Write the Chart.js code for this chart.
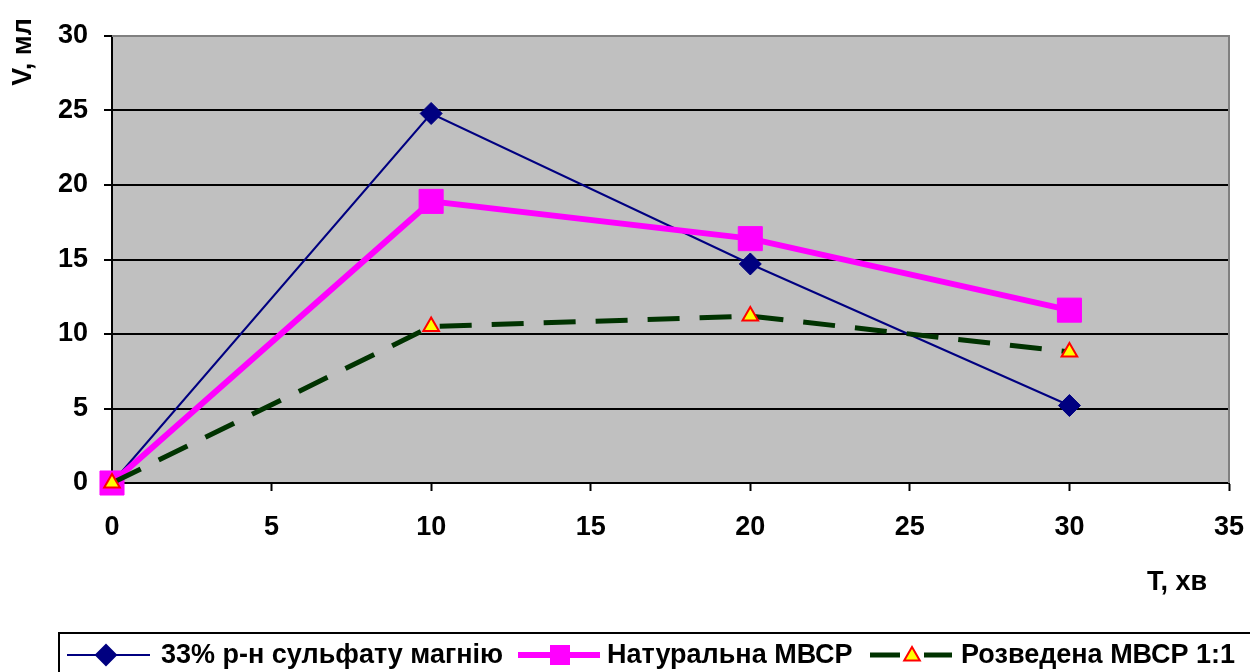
<!DOCTYPE html>
<html>
<head>
<meta charset="utf-8">
<script src="https://cdn.jsdelivr.net/npm/chart.js@4.4.1/dist/chart.umd.min.js"></script>
<style>
  body { margin: 0; background: #fff; }
  #wrap { width: 1250px; height: 672px; position: relative; }
</style>
</head>
<body>
<div id="wrap"><canvas id="chart"></canvas></div>
<script>
// data
const times = [0, 10, 20, 30];
const magnesium = [0, 24.8, 14.7, 5.2];
const natural = [0, 18.9, 16.4, 11.6];
const diluted = [0, 10.5, 11.2, 8.8];

const xTicks = [0, 5, 10, 15, 20, 25, 30, 35];
const yTicks = [0, 5, 10, 15, 20, 25, 30];

const seriesNames = ['33% р-н сульфату магнію', 'Натуральна МВСР', 'Розведена МВСР 1:1'];
const xTitle = 'T, хв';
const yTitle = 'V, мл';

const FONT = '"Liberation Sans", Arial, sans-serif';

function pts(ys) {
    return times.map((t, i) => ({ x: t, y: ys[i] }));
}

// grey plot background + grey top/right border
const plotBg = {
    id: 'plotBg',
    beforeDraw(chart) {
        const { ctx, chartArea: a } = chart;
        ctx.save();
        ctx.fillStyle = '#C0C0C0';
        ctx.fillRect(a.left, a.top, a.right - a.left, a.bottom - a.top);
        ctx.restore();
    },
    beforeDatasetsDraw(chart) {
        const { ctx, chartArea: a } = chart;
        ctx.save();
        ctx.strokeStyle = '#808080';
        ctx.lineWidth = 2;
        ctx.beginPath();
        ctx.moveTo(a.left, a.top);
        ctx.lineTo(a.right, a.top);
        ctx.lineTo(a.right, a.bottom);
        ctx.stroke();
        ctx.restore();
    }
};

// axis titles and the boxed legend
const extras = {
    id: 'extras',
    afterDraw(chart) {
        const ctx = chart.ctx;
        ctx.save();
        ctx.fillStyle = '#000';
        ctx.font = 'bold 27px ' + FONT;

        ctx.save();
        ctx.translate(24, 52);
        ctx.rotate(-Math.PI / 2);
        ctx.textAlign = 'center';
        ctx.textBaseline = 'middle';
        ctx.fillText(yTitle, 0, 0);
        ctx.restore();

        ctx.textAlign = 'center';
        ctx.textBaseline = 'middle';
        ctx.fillText(xTitle, 1177, 583);

        // legend box
        ctx.strokeStyle = '#000';
        ctx.lineWidth = 2;
        ctx.strokeRect(59, 633, 1250, 80);

        const ly = 655;
        const ds = chart.data.datasets;

        // item 1
        ctx.strokeStyle = ds[0].borderColor;
        ctx.lineWidth = 2;
        ctx.beginPath(); ctx.moveTo(67, ly); ctx.lineTo(150, ly); ctx.stroke();
        ctx.fillStyle = ds[0].pointBackgroundColor;
        Chart.helpers.drawPoint(ctx, { pointStyle: 'rectRot', radius: 10, borderWidth: 1 }, 106, ly);

        // item 2
        ctx.strokeStyle = ds[1].borderColor;
        ctx.lineWidth = 6;
        ctx.beginPath(); ctx.moveTo(518, ly); ctx.lineTo(600, ly); ctx.stroke();
        ctx.fillStyle = ds[1].pointBackgroundColor;
        ctx.fillRect(550, ly - 10, 20, 20);

        // item 3
        ctx.strokeStyle = ds[2].borderColor;
        ctx.lineWidth = 5;
        ctx.beginPath();
        ctx.moveTo(870, ly); ctx.lineTo(900, ly);
        ctx.moveTo(924, ly); ctx.lineTo(952, ly);
        ctx.stroke();
        ctx.fillStyle = ds[2].pointBackgroundColor;
        ctx.strokeStyle = ds[2].pointBorderColor;
        ctx.lineWidth = 2;
        Chart.helpers.drawPoint(ctx, { pointStyle: 'triangle', radius: 9, borderWidth: 2 }, 912, ly + 1);

        ctx.fillStyle = '#000';
        ctx.textAlign = 'left';
        ctx.textBaseline = 'middle';
        ctx.font = 'bold 27px ' + FONT;
        ctx.fillText(seriesNames[0], 161, ly + 1);
        ctx.fillText(seriesNames[1], 607, ly + 1);
        ctx.fillText(seriesNames[2], 961, ly + 1);
        ctx.restore();
    }
};

new Chart(document.getElementById('chart'), {
    type: 'line',
    data: {
        datasets: [
            {
                label: seriesNames[0],
                data: pts(magnesium),
                borderColor: '#000080',
                backgroundColor: '#000080',
                borderWidth: 2,
                pointStyle: 'rectRot',
                pointRadius: 11,
                pointBackgroundColor: '#000080',
                pointBorderColor: '#000080',
                pointBorderWidth: 1,
                clip: false,
                order: 3
            },
            {
                label: seriesNames[1],
                data: pts(natural),
                borderColor: '#FF00FF',
                backgroundColor: '#FF00FF',
                borderWidth: 6,
                pointStyle: 'rect',
                pointRadius: 17,
                pointBackgroundColor: '#FF00FF',
                pointBorderColor: '#FF00FF',
                pointBorderWidth: 1,
                clip: false,
                order: 2
            },
            {
                label: seriesNames[2],
                data: pts(diluted),
                borderColor: '#003300',
                backgroundColor: '#003300',
                borderWidth: 5,
                borderDash: [32, 20],
                pointStyle: 'triangle',
                pointRadius: 9,
                pointBackgroundColor: '#FFFF00',
                pointBorderColor: '#FF0000',
                pointBorderWidth: 2,
                clip: false,
                order: 1
            }
        ]
    },
    options: {
        responsive: true,
        maintainAspectRatio: false,
        animation: false,
        devicePixelRatio: 1,
        layout: { padding: { top: 36, right: 21, left: 0, bottom: 0 } },
        plugins: {
            legend: { display: false },
            tooltip: { enabled: false }
        },
        scales: {
            x: {
                type: 'linear',
                min: 0,
                max: 35,
                afterBuildTicks: s => { s.ticks = xTicks.map(v => ({ value: v })); },
                afterFit: s => { s.height = 189; s.paddingLeft = 0; s.paddingRight = 0; },
                border: { color: '#000', width: 2 },
                grid: { drawOnChartArea: false, drawTicks: true, tickLength: 8, tickColor: '#000', tickWidth: 2 },
                ticks: { color: '#000', padding: 20, maxRotation: 0, font: { family: FONT, size: 27, weight: 'bold' } }
            },
            y: {
                type: 'linear',
                min: 0,
                max: 30,
                afterBuildTicks: s => { s.ticks = yTicks.map(v => ({ value: v })); },
                afterFit: s => { s.width = 112; s.paddingTop = 0; s.paddingBottom = 0; },
                border: { color: '#000', width: 2 },
                grid: {
                    color: ctx => (ctx.tick && ctx.tick.value === 30 ? '#808080' : '#000'),
                    lineWidth: 2,
                    tickLength: 8,
                    tickColor: '#000',
                    tickWidth: 2
                },
                ticks: { color: '#000', padding: 16, font: { family: FONT, size: 27, weight: 'bold' } }
            }
        }
    },
    plugins: [plotBg, extras]
});
</script>
</body>
</html>
